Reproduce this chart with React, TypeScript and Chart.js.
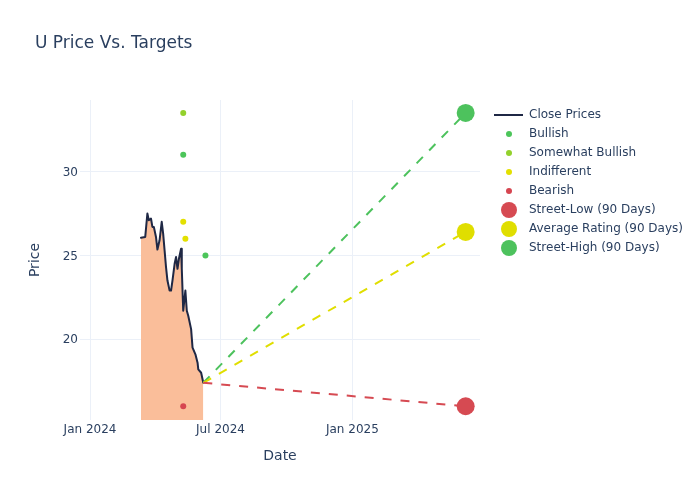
import React, { useEffect, useRef } from "react";
import { Chart, registerables } from "chart.js";

Chart.register(...registerables);

const TITLE = "U Price Vs. Targets";

const closeDates = [
  "2024-03-12", "2024-03-18", "2024-03-21", "2024-03-23", "2024-03-26", "2024-03-28",
  "2024-03-30", "2024-04-02", "2024-04-04", "2024-04-07", "2024-04-10", "2024-04-12",
  "2024-04-14", "2024-04-16", "2024-04-18", "2024-04-21", "2024-04-23", "2024-04-25",
  "2024-04-28", "2024-04-30", "2024-05-02", "2024-05-04", "2024-05-07", "2024-05-08",
  "2024-05-10", "2024-05-13", "2024-05-15", "2024-05-17", "2024-05-21", "2024-05-23",
  "2024-05-27", "2024-05-30", "2024-05-31", "2024-06-04", "2024-06-07",
];
const closePrices = [
  26.05, 26.1, 27.5, 27.1, 27.2, 26.7,
  26.7, 26.1, 25.35, 25.9, 27.0, 26.3,
  25.3, 24.3, 23.5, 22.9, 22.9, 23.5,
  24.5, 24.9, 24.2, 24.8, 25.4, 24.2,
  21.7, 22.9, 21.7, 21.4, 20.6, 19.5,
  19.1, 18.6, 18.2, 18.0, 17.4,
];

const bullishDates = ["2024-05-10", "2024-06-10"];
const bullishValues = [31, 25];
const somewhatBullishDates = ["2024-05-10"];
const somewhatBullishValues = [33.5];
const indifferentDates = ["2024-05-10", "2024-05-13"];
const indifferentValues = [27, 26];
const bearishDates = ["2024-05-10"];
const bearishValues = [16];

const targetDate = "2025-06-08";
const streetLow = 16;
const averageRating = 26.4;
const streetHigh = 33.5;

const xRange = ["2023-12-18", "2025-06-28"];
const yRange = [15.18, 34.27];
const xTickDates = ["2024-01-01", "2024-07-01", "2025-01-01"];
const xTickLabels = ["Jan 2024", "Jul 2024", "Jan 2025"];
const yTicks = [20, 25, 30];

const C = {
  text: "#2a3f5f",
  grid: "#EBF0F8",
  line: "#1f2845",
  fill: "#FABE9A",
  bullish: "#4CC55A",
  somewhat: "#93D12C",
  indifferent: "#E3E000",
  bearish: "#D64550",
  low: "#D64A52",
  avg: "#E0DE00",
  high: "#4DC25D",
};

const t = (d: string) => Date.parse(d + "T00:00:00Z");
const pts = (ds: string[], vs: number[]) => ds.map((d, i) => ({ x: t(d), y: vs[i] }));

const legendItems = [
  { label: "Close Prices", kind: "line", color: C.line, r: 0 },
  { label: "Bullish", kind: "dot", color: C.bullish, r: 3 },
  { label: "Somewhat Bullish", kind: "dot", color: C.somewhat, r: 3 },
  { label: "Indifferent", kind: "dot", color: C.indifferent, r: 3 },
  { label: "Bearish", kind: "dot", color: C.bearish, r: 3 },
  { label: "Street-Low (90 Days)", kind: "dot", color: C.low, r: 8 },
  { label: "Average Rating (90 Days)", kind: "dot", color: C.avg, r: 8 },
  { label: "Street-High (90 Days)", kind: "dot", color: C.high, r: 8 },
];

const FONT = '"DejaVu Sans", sans-serif';

const overlay = {
  id: "overlay",
  afterDraw(chart: any) {
    const ctx = chart.ctx as CanvasRenderingContext2D;
    ctx.save();
    ctx.fillStyle = C.text;
    ctx.textAlign = "left";
    ctx.textBaseline = "middle";
    ctx.font = `17px ${FONT}`;
    ctx.fillText(TITLE, 35, 44);
    ctx.font = `12px ${FONT}`;
    legendItems.forEach((it, i) => {
      const y = 115 + i * 19;
      if (it.kind === "line") {
        ctx.strokeStyle = it.color;
        ctx.lineWidth = 2;
        ctx.beginPath();
        ctx.moveTo(494, y);
        ctx.lineTo(523, y);
        ctx.stroke();
      } else {
        ctx.fillStyle = it.color;
        ctx.beginPath();
        ctx.arc(509, y, it.r, 0, Math.PI * 2);
        ctx.fill();
      }
      ctx.fillStyle = C.text;
      ctx.fillText(it.label, 529, y);
    });
    ctx.restore();
  },
};

export default function App() {
  const ref = useRef<HTMLCanvasElement | null>(null);
  useEffect(() => {
    if (!ref.current) return;
    const last = { x: t(closeDates[closeDates.length - 1]), y: closePrices[closePrices.length - 1] };
    const scatter = (label: string, data: any[], color: string, r: number) => ({
      type: "scatter" as const,
      label,
      data,
      showLine: false,
      pointRadius: r,
      pointHoverRadius: r,
      pointBackgroundColor: color,
      pointBorderWidth: 0,
      backgroundColor: color,
      borderColor: color,
      order: 1,
    });
    const dashed = (label: string, y: number, color: string) => ({
      type: "line" as const,
      label,
      data: [last, { x: t(targetDate), y }],
      borderColor: color,
      borderWidth: 2,
      borderDash: [9, 9],
      pointRadius: 0,
      fill: false,
      order: 5,
    });
    const chart = new Chart(ref.current, {
      type: "line",
      data: {
        datasets: [
          scatter("Bullish", pts(bullishDates, bullishValues), C.bullish, 3),
          scatter("Somewhat Bullish", pts(somewhatBullishDates, somewhatBullishValues), C.somewhat, 3),
          scatter("Indifferent", pts(indifferentDates, indifferentValues), C.indifferent, 3),
          scatter("Bearish", pts(bearishDates, bearishValues), C.bearish, 3),
          scatter("Street-Low (90 Days)", [{ x: t(targetDate), y: streetLow }], C.low, 9),
          scatter("Average Rating (90 Days)", [{ x: t(targetDate), y: averageRating }], C.avg, 9),
          scatter("Street-High (90 Days)", [{ x: t(targetDate), y: streetHigh }], C.high, 9),
          dashed("Low line", streetLow, C.low),
          dashed("Avg line", averageRating, C.avg),
          dashed("High line", streetHigh, C.high),
          {
            type: "line",
            label: "Close Prices",
            data: pts(closeDates, closePrices),
            borderColor: C.line,
            borderWidth: 2,
            borderJoinStyle: "round",
            borderCapStyle: "round",
            backgroundColor: C.fill,
            fill: "origin",
            pointRadius: 0,
            tension: 0,
            order: 10,
          },
        ] as any,
      },
      options: {
        animation: false,
        responsive: false,
        events: [],
        layout: { padding: { top: 100, right: 220, left: 0, bottom: 0 } },
        plugins: { legend: { display: false }, title: { display: false }, tooltip: { enabled: false } },
        scales: {
          x: {
            type: "linear",
            min: t(xRange[0]),
            max: t(xRange[1]),
            afterFit: (s: any) => { s.height = 80; },
            afterBuildTicks: (s: any) => { s.ticks = xTickDates.map((d) => ({ value: t(d) })); },
            ticks: {
              autoSkip: false,
              maxRotation: 0,
              padding: 3,
              color: C.text,
              font: { family: FONT, size: 12 },
              callback: (v: any) => {
                const i = xTickDates.findIndex((d) => t(d) === v);
                return i >= 0 ? xTickLabels[i] : "";
              },
            },
            grid: { color: C.grid, lineWidth: 1, drawTicks: false },
            border: { display: false },
            title: {
              display: true,
              text: "Date",
              color: C.text,
              font: { family: FONT, size: 14 },
              padding: { top: 0, bottom: 35.6 },
            },
          },
          y: {
            type: "linear",
            min: yRange[0],
            max: yRange[1],
            afterFit: (s: any) => { s.width = 80; },
            afterBuildTicks: (s: any) => { s.ticks = yTicks.map((v) => ({ value: v })); },
            ticks: {
              padding: 2,
              labelOffset: 1,
              color: C.text,
              font: { family: FONT, size: 12 },
              callback: (v: any) => String(v),
            },
            grid: { color: C.grid, lineWidth: 1, drawTicks: false },
            border: { display: false },
            title: {
              display: true,
              text: "Price",
              color: C.text,
              font: { family: FONT, size: 14 },
              padding: { top: 26.6, bottom: 0 },
            },
          },
        },
      },
      plugins: [overlay],
    });
    return () => chart.destroy();
  }, []);
  return (
    <div style={{ position: "absolute", left: 0, top: 0, width: 700, height: 500, background: "#fff" }}>
      <canvas ref={ref} width={700} height={500} style={{ width: 700, height: 500, display: "block" }} />
    </div>
  );
}
